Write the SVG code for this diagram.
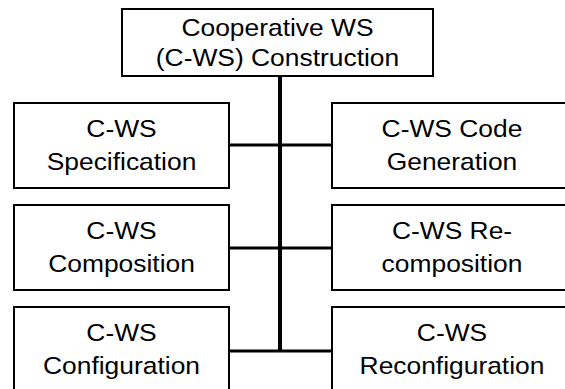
<svg xmlns="http://www.w3.org/2000/svg" width="565" height="389" viewBox="0 0 565 389">
<style>
.box{fill:#fff;stroke:#000;stroke-width:2}
.t{font-family:"Liberation Sans",Arial,sans-serif;font-size:24px;text-anchor:middle;fill:#000}
.v{stroke:#000;stroke-width:4;fill:none}
.h{stroke:#000;stroke-width:3;fill:none}
</style>
<rect width="565" height="389" fill="#fff"/>
<g id="connectors">
<line class="v" x1="280" y1="76" x2="280" y2="351"/>
<line class="h" x1="229" y1="145" x2="332" y2="145"/>
<line class="h" x1="229" y1="248" x2="332" y2="248"/>
<line class="h" x1="229" y1="351" x2="332" y2="351"/>
</g>
<g id="root">
<rect class="box" x="122" y="9" width="311" height="67"/>
<text class="t" transform="translate(277.5,36) scale(1.1,1)">Cooperative WS</text>
<text class="t" transform="translate(277.5,65.5) scale(1.1,1)">(C-WS) Construction</text>
</g>
<g id="spec">
<rect class="box" x="14" y="103" width="215" height="85"/>
<text class="t" transform="translate(121.5,137) scale(1.1,1)">C-WS</text>
<text class="t" transform="translate(121.5,170) scale(1.1,1)">Specification</text>
</g>
<g id="codegen">
<rect class="box" x="332" y="103" width="240" height="85"/>
<text class="t" transform="translate(452,137) scale(1.1,1)">C-WS Code</text>
<text class="t" transform="translate(452,170) scale(1.1,1)">Generation</text>
</g>
<g id="composition">
<rect class="box" x="14" y="205" width="215" height="85"/>
<text class="t" transform="translate(121.5,239) scale(1.1,1)">C-WS</text>
<text class="t" transform="translate(121.5,272) scale(1.1,1)">Composition</text>
</g>
<g id="recomposition">
<rect class="box" x="332" y="205" width="240" height="85"/>
<text class="t" transform="translate(452,239) scale(1.1,1)">C-WS Re-</text>
<text class="t" transform="translate(452,272) scale(1.1,1)">composition</text>
</g>
<g id="configuration">
<rect class="box" x="14" y="307" width="215" height="90"/>
<text class="t" transform="translate(121.5,341) scale(1.1,1)">C-WS</text>
<text class="t" transform="translate(121.5,374) scale(1.1,1)">Configuration</text>
</g>
<g id="reconfiguration">
<rect class="box" x="332" y="307" width="240" height="90"/>
<text class="t" transform="translate(452,341) scale(1.1,1)">C-WS</text>
<text class="t" transform="translate(452,374) scale(1.1,1)">Reconfiguration</text>
</g>
</svg>
